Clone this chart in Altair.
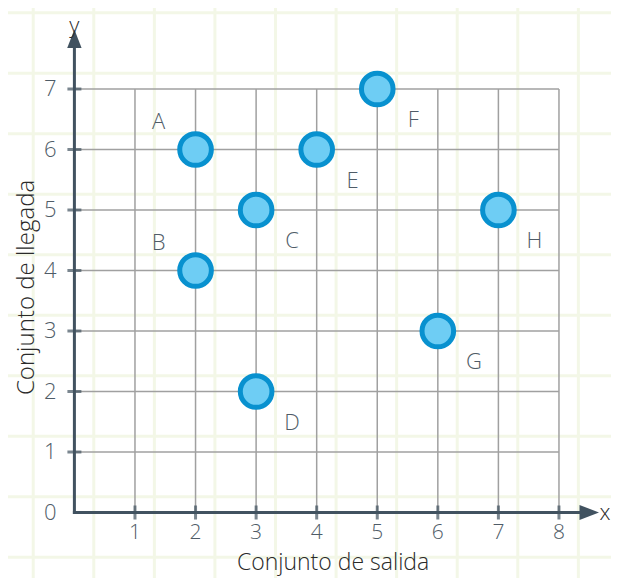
import altair as alt
import pandas as pd

# ---- data ----
names = ["A", "B", "C", "D", "E", "F", "G", "H"]
xs = [2, 2, 3, 3, 4, 5, 6, 7]
ys = [6, 4, 5, 2, 6, 7, 3, 5]
label_side = ["ul", "ul", "dr", "dr", "dr", "dr", "dr", "dr"]

x_ticks = [1, 2, 3, 4, 5, 6, 7, 8]
y_ticks = [1, 2, 3, 4, 5, 6, 7]
y_labels = [0, 1, 2, 3, 4, 5, 6, 7]
paper_x = [-0.68 + i for i in range(11)]
paper_y = [-0.74 + i for i in range(10)]

X_MAX_GRID, Y_MAX_GRID = 8, 7
X_AXIS_END, Y_AXIS_END = 8.4, 7.7
X_ARROW, Y_ARROW = 8.5, 7.83

pts = pd.DataFrame({"name": names, "x": xs, "y": ys, "side": label_side})
xt = pd.DataFrame({"v": x_ticks})
yt = pd.DataFrame({"v": y_ticks})
yl = pd.DataFrame({"v": y_labels})
px = pd.DataFrame({"v": paper_x})
py = pd.DataFrame({"v": paper_y})

xs_ = alt.Scale(domain=[-1.0963, 8.859], nice=False, zero=False)
ys_ = alt.Scale(domain=[-1.0826, 8.339], nice=False, zero=False)

def X(f, **k):
    return alt.X(f, type="quantitative", scale=xs_, axis=None, **k)

def Y(f, **k):
    return alt.Y(f, type="quantitative", scale=ys_, axis=None, **k)

base_font = "Open Sans"
fw = 300
axis_col = "#415260"
grid_col = "#a0a0a0"
paper_col = "#f3f7e7"
txt_col = "#4f5c67"
title_col = "#2a2a2a"

# graph paper background
paper_v = alt.Chart(px).mark_rule(color=paper_col, strokeWidth=3).encode(x=X("v"))
paper_h = alt.Chart(py).mark_rule(color=paper_col, strokeWidth=3).encode(y=Y("v"))

# gray grid
grid_v = alt.Chart(xt).mark_rule(color=grid_col, strokeWidth=1.5).encode(
    x=X("v"), y=Y("y0:Q"), y2=alt.Y2("y1:Q")
).transform_calculate(y0="0", y1=str(Y_MAX_GRID))
grid_h = alt.Chart(yt).mark_rule(color=grid_col, strokeWidth=1.5).encode(
    y=Y("v"), x=X("x0:Q"), x2=alt.X2("x1:Q")
).transform_calculate(x0="0", x1=str(X_MAX_GRID))

# axes lines
axis_df = pd.DataFrame({"x0": [0, 0], "x1": [X_AXIS_END, 0], "y0": [0, 0], "y1": [0, Y_AXIS_END]})
axes = alt.Chart(axis_df).mark_rule(color=axis_col, strokeWidth=3, strokeCap="square").encode(
    x=X("x0"), x2="x1", y=Y("y0"), y2="y1"
)

arrow_x = alt.Chart(pd.DataFrame({"x": [X_ARROW], "y": [0]})).mark_point(
    shape="M-1,-0.78L1,0L-1,0.78Z", filled=True, color=axis_col, opacity=1, size=380
).encode(x=X("x"), y=Y("y"))
arrow_y = alt.Chart(pd.DataFrame({"x": [0], "y": [Y_ARROW]})).mark_point(
    shape="M-0.78,1L0,-1L0.78,1Z", filled=True, color=axis_col, opacity=1, size=340
).encode(x=X("x"), y=Y("y"))

# ticks
ticks_x = alt.Chart(xt).mark_tick(orient="vertical", color=axis_col, size=14, thickness=3).encode(
    x=X("v"), y=Y("z:Q")
).transform_calculate(z="0")
ticks_y = alt.Chart(yt).mark_tick(orient="horizontal", color=axis_col, size=14, thickness=3).encode(
    y=Y("v"), x=X("z:Q")
).transform_calculate(z="0")

# tick labels
lab_x = alt.Chart(xt).mark_text(font=base_font, fontWeight=fw, fontSize=21, color=txt_col, dy=20, baseline="middle").encode(
    x=X("v"), y=Y("z:Q"), text="v:Q"
).transform_calculate(z="0")
lab_y = alt.Chart(yl).mark_text(font=base_font, fontWeight=fw, fontSize=22, color=txt_col, dx=-24, baseline="middle").encode(
    y=Y("v"), x=X("z:Q"), text="v:Q"
).transform_calculate(z="0")

axis_letters = pd.DataFrame({"t": ["x", "y"], "x": [8.76, 0], "y": [0, 8.04]})
letters = alt.Chart(axis_letters).mark_text(font=base_font, fontWeight=fw, fontSize=22, color=title_col, baseline="middle").encode(
    x=X("x"), y=Y("y"), text="t:N"
)

# points
points = alt.Chart(pts).mark_point(
    shape="circle", filled=False, fill="#6ecdf4", fillOpacity=1, stroke="#0891cf",
    strokeWidth=5, size=1000, opacity=1
).encode(x=X("x"), y=Y("y"))

labels_ul = alt.Chart(pts).transform_filter("datum.side == 'ul'").mark_text(
    font=base_font, fontWeight=fw, fontSize=22, color=txt_col, dx=-37, dy=-28, baseline="middle"
).encode(x=X("x"), y=Y("y"), text="name:N")
labels_dr = alt.Chart(pts).transform_filter("datum.side == 'dr'").mark_text(
    font=base_font, fontWeight=fw, fontSize=22, color=txt_col, dx=36, dy=31, baseline="middle"
).encode(x=X("x"), y=Y("y"), text="name:N")

# titles
titles = pd.DataFrame({"t": ["Conjunto de salida"], "x": [4.27], "y": [-0.837]})
title_x = alt.Chart(titles).mark_text(font=base_font, fontWeight=fw, fontSize=23, color=title_col, baseline="middle").encode(
    x=X("x"), y=Y("y"), text="t:N"
)
titles_y = pd.DataFrame({"t": ["Conjunto de llegada"], "x": [-0.78], "y": [3.72]})
title_y = alt.Chart(titles_y).mark_text(font=base_font, fontWeight=fw, fontSize=24, color=title_col, baseline="middle", angle=270).encode(
    x=X("x"), y=Y("y"), text="t:N"
)

chart = alt.layer(
    paper_v, paper_h, grid_v, grid_h, axes, arrow_x, arrow_y, ticks_x, ticks_y,
    lab_x, lab_y, letters, points, labels_ul, labels_dr, title_x, title_y
).properties(
    width=603, height=570, autosize=alt.AutoSizeParams(type="none"), padding=0,
    background="white"
).configure_view(stroke=None, clip=False)

chart.save("out.html", embed_options={"renderer": "svg", "actions": False})
